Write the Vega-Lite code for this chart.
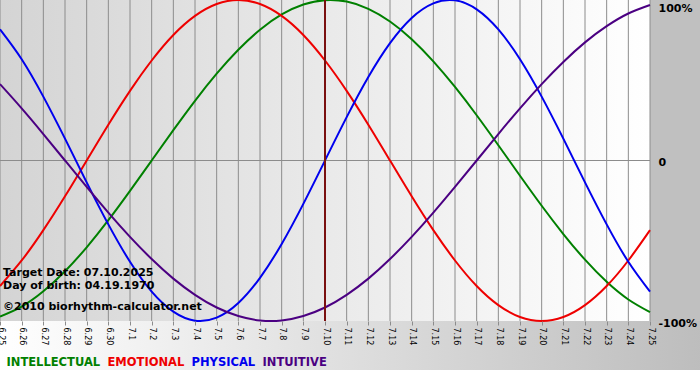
{
  "$schema": "https://vega.github.io/schema/vega-lite/v6.json",
  "width": 650,
  "height": 321,
  "autosize": {"type": "none"},
  "padding": {"left": 0, "top": 0, "right": 50, "bottom": 59},
  "background": "white",
  "config": {"view": {"stroke": null}, "font": "DejaVu Sans", "axis": {"labelOverlap": false}, "axisX": {"labelOverlap": false}},
  "datasets": {
    "bio": [
      {"day": -15, "series": "INTELLECTUAL", "value": -0.972},
      {"day": -14, "series": "INTELLECTUAL", "value": -0.910},
      {"day": -13, "series": "INTELLECTUAL", "value": -0.815},
      {"day": -12, "series": "INTELLECTUAL", "value": -0.690},
      {"day": -11, "series": "INTELLECTUAL", "value": -0.541},
      {"day": -10, "series": "INTELLECTUAL", "value": -0.372},
      {"day": -9, "series": "INTELLECTUAL", "value": -0.189},
      {"day": -8, "series": "INTELLECTUAL", "value": 0},
      {"day": -7, "series": "INTELLECTUAL", "value": 0.189},
      {"day": -6, "series": "INTELLECTUAL", "value": 0.372},
      {"day": -5, "series": "INTELLECTUAL", "value": 0.541},
      {"day": -4, "series": "INTELLECTUAL", "value": 0.690},
      {"day": -3, "series": "INTELLECTUAL", "value": 0.815},
      {"day": -2, "series": "INTELLECTUAL", "value": 0.910},
      {"day": -1, "series": "INTELLECTUAL", "value": 0.972},
      {"day": 0, "series": "INTELLECTUAL", "value": 0.999},
      {"day": 1, "series": "INTELLECTUAL", "value": 0.990},
      {"day": 2, "series": "INTELLECTUAL", "value": 0.945},
      {"day": 3, "series": "INTELLECTUAL", "value": 0.866},
      {"day": 4, "series": "INTELLECTUAL", "value": 0.756},
      {"day": 5, "series": "INTELLECTUAL", "value": 0.618},
      {"day": 6, "series": "INTELLECTUAL", "value": 0.458},
      {"day": 7, "series": "INTELLECTUAL", "value": 0.282},
      {"day": 8, "series": "INTELLECTUAL", "value": 0.095},
      {"day": 9, "series": "INTELLECTUAL", "value": -0.095},
      {"day": 10, "series": "INTELLECTUAL", "value": -0.282},
      {"day": 11, "series": "INTELLECTUAL", "value": -0.458},
      {"day": 12, "series": "INTELLECTUAL", "value": -0.618},
      {"day": 13, "series": "INTELLECTUAL", "value": -0.756},
      {"day": 14, "series": "INTELLECTUAL", "value": -0.866},
      {"day": 15, "series": "INTELLECTUAL", "value": -0.945},
      {"day": -15, "series": "EMOTIONAL", "value": -0.782},
      {"day": -14, "series": "EMOTIONAL", "value": -0.623},
      {"day": -13, "series": "EMOTIONAL", "value": -0.434},
      {"day": -12, "series": "EMOTIONAL", "value": -0.223},
      {"day": -11, "series": "EMOTIONAL", "value": 0},
      {"day": -10, "series": "EMOTIONAL", "value": 0.223},
      {"day": -9, "series": "EMOTIONAL", "value": 0.434},
      {"day": -8, "series": "EMOTIONAL", "value": 0.623},
      {"day": -7, "series": "EMOTIONAL", "value": 0.782},
      {"day": -6, "series": "EMOTIONAL", "value": 0.901},
      {"day": -5, "series": "EMOTIONAL", "value": 0.975},
      {"day": -4, "series": "EMOTIONAL", "value": 1},
      {"day": -3, "series": "EMOTIONAL", "value": 0.975},
      {"day": -2, "series": "EMOTIONAL", "value": 0.901},
      {"day": -1, "series": "EMOTIONAL", "value": 0.782},
      {"day": 0, "series": "EMOTIONAL", "value": 0.623},
      {"day": 1, "series": "EMOTIONAL", "value": 0.434},
      {"day": 2, "series": "EMOTIONAL", "value": 0.223},
      {"day": 3, "series": "EMOTIONAL", "value": 0},
      {"day": 4, "series": "EMOTIONAL", "value": -0.223},
      {"day": 5, "series": "EMOTIONAL", "value": -0.434},
      {"day": 6, "series": "EMOTIONAL", "value": -0.623},
      {"day": 7, "series": "EMOTIONAL", "value": -0.782},
      {"day": 8, "series": "EMOTIONAL", "value": -0.901},
      {"day": 9, "series": "EMOTIONAL", "value": -0.975},
      {"day": 10, "series": "EMOTIONAL", "value": -1},
      {"day": 11, "series": "EMOTIONAL", "value": -0.975},
      {"day": 12, "series": "EMOTIONAL", "value": -0.901},
      {"day": 13, "series": "EMOTIONAL", "value": -0.782},
      {"day": 14, "series": "EMOTIONAL", "value": -0.623},
      {"day": 15, "series": "EMOTIONAL", "value": -0.434},
      {"day": -15, "series": "PHYSICAL", "value": 0.817},
      {"day": -14, "series": "PHYSICAL", "value": 0.631},
      {"day": -13, "series": "PHYSICAL", "value": 0.398},
      {"day": -12, "series": "PHYSICAL", "value": 0.136},
      {"day": -11, "series": "PHYSICAL", "value": -0.136},
      {"day": -10, "series": "PHYSICAL", "value": -0.398},
      {"day": -9, "series": "PHYSICAL", "value": -0.631},
      {"day": -8, "series": "PHYSICAL", "value": -0.817},
      {"day": -7, "series": "PHYSICAL", "value": -0.942},
      {"day": -6, "series": "PHYSICAL", "value": -0.998},
      {"day": -5, "series": "PHYSICAL", "value": -0.979},
      {"day": -4, "series": "PHYSICAL", "value": -0.888},
      {"day": -3, "series": "PHYSICAL", "value": -0.731},
      {"day": -2, "series": "PHYSICAL", "value": -0.520},
      {"day": -1, "series": "PHYSICAL", "value": -0.270},
      {"day": 0, "series": "PHYSICAL", "value": 0},
      {"day": 1, "series": "PHYSICAL", "value": 0.270},
      {"day": 2, "series": "PHYSICAL", "value": 0.520},
      {"day": 3, "series": "PHYSICAL", "value": 0.731},
      {"day": 4, "series": "PHYSICAL", "value": 0.888},
      {"day": 5, "series": "PHYSICAL", "value": 0.979},
      {"day": 6, "series": "PHYSICAL", "value": 0.998},
      {"day": 7, "series": "PHYSICAL", "value": 0.942},
      {"day": 8, "series": "PHYSICAL", "value": 0.817},
      {"day": 9, "series": "PHYSICAL", "value": 0.631},
      {"day": 10, "series": "PHYSICAL", "value": 0.398},
      {"day": 11, "series": "PHYSICAL", "value": 0.136},
      {"day": 12, "series": "PHYSICAL", "value": -0.136},
      {"day": 13, "series": "PHYSICAL", "value": -0.398},
      {"day": 14, "series": "PHYSICAL", "value": -0.631},
      {"day": 15, "series": "PHYSICAL", "value": -0.817},
      {"day": -15, "series": "INTUITIVE", "value": 0.476},
      {"day": -14, "series": "INTUITIVE", "value": 0.325},
      {"day": -13, "series": "INTUITIVE", "value": 0.165},
      {"day": -12, "series": "INTUITIVE", "value": 0},
      {"day": -11, "series": "INTUITIVE", "value": -0.165},
      {"day": -10, "series": "INTUITIVE", "value": -0.325},
      {"day": -9, "series": "INTUITIVE", "value": -0.476},
      {"day": -8, "series": "INTUITIVE", "value": -0.614},
      {"day": -7, "series": "INTUITIVE", "value": -0.736},
      {"day": -6, "series": "INTUITIVE", "value": -0.837},
      {"day": -5, "series": "INTUITIVE", "value": -0.916},
      {"day": -4, "series": "INTUITIVE", "value": -0.969},
      {"day": -3, "series": "INTUITIVE", "value": -0.997},
      {"day": -2, "series": "INTUITIVE", "value": -0.997},
      {"day": -1, "series": "INTUITIVE", "value": -0.969},
      {"day": 0, "series": "INTUITIVE", "value": -0.916},
      {"day": 1, "series": "INTUITIVE", "value": -0.837},
      {"day": 2, "series": "INTUITIVE", "value": -0.736},
      {"day": 3, "series": "INTUITIVE", "value": -0.614},
      {"day": 4, "series": "INTUITIVE", "value": -0.476},
      {"day": 5, "series": "INTUITIVE", "value": -0.325},
      {"day": 6, "series": "INTUITIVE", "value": -0.165},
      {"day": 7, "series": "INTUITIVE", "value": 0},
      {"day": 8, "series": "INTUITIVE", "value": 0.165},
      {"day": 9, "series": "INTUITIVE", "value": 0.325},
      {"day": 10, "series": "INTUITIVE", "value": 0.476},
      {"day": 11, "series": "INTUITIVE", "value": 0.614},
      {"day": 12, "series": "INTUITIVE", "value": 0.736},
      {"day": 13, "series": "INTUITIVE", "value": 0.837},
      {"day": 14, "series": "INTUITIVE", "value": 0.916},
      {"day": 15, "series": "INTUITIVE", "value": 0.969}
    ]
  },
  "layer": [
    {
      "data": {"values": [{}]},
      "mark": {"type": "rect", "color": {"gradient": "linear", "x1": 0, "y1": 0, "x2": 1, "y2": 0, "stops": [{"offset": 0, "color": "#ffffff"}, {"offset": 1, "color": "#bdbdbd"}]}},
      "encoding": {
        "x": {"datum": -15, "type": "quantitative", "scale": {"domain": [-15, 15], "nice": false, "zero": false}},
        "x2": {"datum": 17.4},
        "y": {"datum": -1, "type": "quantitative", "scale": {"domain": [-1, 1], "nice": false, "zero": false}},
        "y2": {"datum": -1.305}
      }
    },
    {
      "data": {"values": [{}]},
      "mark": {"type": "rect", "color": "#c0c0c0"},
      "encoding": {
        "x": {"datum": 15, "type": "quantitative", "scale": {"domain": [-15, 15], "nice": false, "zero": false}},
        "x2": {"datum": 17.4},
        "y": {"datum": 1, "type": "quantitative", "scale": {"domain": [-1, 1], "nice": false, "zero": false}},
        "y2": {"datum": -1}
      }
    },
    {
      "data": {"values": [{}]},
      "mark": {"type": "rect", "color": {"gradient": "linear", "x1": 0, "y1": 0, "x2": 1, "y2": 0, "stops": [{"offset": 0, "color": "#d4d4d4"}, {"offset": 1, "color": "#ffffff"}]}},
      "encoding": {
        "x": {"datum": -15, "type": "quantitative", "scale": {"domain": [-15, 15], "nice": false, "zero": false}},
        "x2": {"datum": 15},
        "y": {"datum": 1, "type": "quantitative", "scale": {"domain": [-1, 1], "nice": false, "zero": false}},
        "y2": {"datum": -1}
      }
    },
    {
      "data": {"name": "bio"},
      "transform": [{"filter": "datum.series === 'INTELLECTUAL'"}],
      "mark": {"type": "rule", "color": "#8c8c8c", "strokeWidth": 1},
      "encoding": {
        "x": {
          "field": "day", "type": "quantitative",
          "scale": {"domain": [-15, 15], "nice": false, "zero": false},
          "axis": {
            "orient": "bottom", "title": null, "tickCount": 31,
            "values": [-15, -14, -13, -12, -11, -10, -9, -8, -7, -6, -5, -4, -3, -2, -1, 0, 1, 2, 3, 4, 5, 6, 7, 8, 9, 10, 11, 12, 13, 14, 15],
            "labelExpr": "datum.value < -9.5 ? '6.' + (40 + datum.value) : '7.' + (10 + datum.value)",
            "labelAngle": 90, "labelAlign": "left", "labelBaseline": "middle",
            "labelFont": "DejaVu Sans", "labelFontSize": 8, "labelColor": "black",
            "labelPadding": 2, "labelOverlap": false, "labelFlush": false, "labelBound": false,
            "grid": false, "domain": false, "ticks": true, "tickSize": 4, "tickColor": "#8c8c8c", "zindex": 1
          }
        }
      }
    },
    {
      "data": {"values": [{}]},
      "mark": {"type": "rule", "color": "#8c8c8c", "strokeWidth": 1},
      "encoding": {
        "y": {"datum": 0, "type": "quantitative", "scale": {"domain": [-1, 1], "nice": false, "zero": false}}
      }
    },
    {
      "data": {"name": "bio"},
      "mark": {"type": "line", "strokeWidth": 2, "interpolate": "natural"},
      "encoding": {
        "x": {
          "field": "day", "type": "quantitative",
          "scale": {"domain": [-15, 15], "nice": false, "zero": false},
          "axis": {
            "orient": "bottom", "title": null, "tickCount": 31,
            "values": [-15, -14, -13, -12, -11, -10, -9, -8, -7, -6, -5, -4, -3, -2, -1, 0, 1, 2, 3, 4, 5, 6, 7, 8, 9, 10, 11, 12, 13, 14, 15],
            "labelExpr": "datum.value < -9.5 ? '6.' + (40 + datum.value) : '7.' + (10 + datum.value)",
            "labelAngle": 90, "labelAlign": "left", "labelBaseline": "middle",
            "labelFont": "DejaVu Sans", "labelFontSize": 8, "labelColor": "black",
            "labelPadding": 2, "labelOverlap": false, "labelFlush": false, "labelBound": false,
            "grid": false, "domain": false, "ticks": true, "tickSize": 4, "tickColor": "#8c8c8c", "zindex": 1
          }
        },
        "y": {
          "field": "value", "type": "quantitative",
          "scale": {"domain": [-1, 1], "nice": false, "zero": false},
          "axis": {
            "orient": "right", "title": null, "values": [-1, 0, 1],
            "labelExpr": "datum.value > 0.5 ? '100%' : (datum.value < -0.5 ? '-100%' : '0')",
            "labelFont": "DejaVu Sans", "labelFontWeight": "bold", "labelFontSize": 11, "labelColor": "black",
            "labelPadding": 8, "labelOffset": 2,
            "labelBaseline": {"condition": {"test": "datum.value > 0.5", "value": "top"}, "value": "middle"},
            "grid": false, "domain": false, "ticks": false, "tickSize": 0,
            "labelFlush": false, "labelOverlap": false, "labelBound": false, "zindex": 1
          }
        },
        "color": {
          "field": "series", "type": "nominal",
          "scale": {"domain": ["INTELLECTUAL", "EMOTIONAL", "PHYSICAL", "INTUITIVE"], "range": ["#008000", "#ee0000", "#0000ee", "#4b0082"]},
          "legend": {
            "title": null, "orient": "bottom", "direction": "horizontal", "offset": 12,
            "symbolType": "circle", "symbolSize": 49, "symbolStrokeWidth": 0, "symbolOpacity": 0, "labelOffset": -5,
            "columnPadding": 0, "padding": 0,
            "labelFont": "DejaVu Sans", "labelFontWeight": "bold", "labelFontSize": 11.5,
            "encode": {"labels": {"update": {"fill": {"scale": "color", "field": "value"}}}}
          }
        }
      }
    },
    {
      "data": {"values": [{}]},
      "mark": {"type": "rule", "color": "#7a1010", "strokeWidth": 2},
      "encoding": {
        "x": {"datum": 0, "type": "quantitative", "scale": {"domain": [-15, 15], "nice": false, "zero": false}}
      }
    },
    {
      "data": {"values": [{}]},
      "mark": {"type": "text", "text": "Target Date: 07.10.2025", "align": "left", "baseline": "alphabetic", "dx": 3, "font": "DejaVu Sans", "fontWeight": "bold", "fontSize": 11, "color": "black"},
      "encoding": {
        "x": {"datum": -15, "type": "quantitative", "scale": {"domain": [-15, 15], "nice": false, "zero": false}},
        "y": {"datum": -0.72, "type": "quantitative", "scale": {"domain": [-1, 1], "nice": false, "zero": false}}
      }
    },
    {
      "data": {"values": [{}]},
      "mark": {"type": "text", "text": "Day of birth: 04.19.1970", "align": "left", "baseline": "alphabetic", "dx": 3, "font": "DejaVu Sans", "fontWeight": "bold", "fontSize": 11, "color": "black"},
      "encoding": {
        "x": {"datum": -15, "type": "quantitative", "scale": {"domain": [-15, 15], "nice": false, "zero": false}},
        "y": {"datum": -0.801, "type": "quantitative", "scale": {"domain": [-1, 1], "nice": false, "zero": false}}
      }
    },
    {
      "data": {"values": [{}]},
      "mark": {"type": "text", "text": "©2010 biorhythm-calculator.net", "align": "left", "baseline": "alphabetic", "dx": 3, "font": "DejaVu Sans", "fontWeight": "bold", "fontSize": 11, "color": "black"},
      "encoding": {
        "x": {"datum": -15, "type": "quantitative", "scale": {"domain": [-15, 15], "nice": false, "zero": false}},
        "y": {"datum": -0.931, "type": "quantitative", "scale": {"domain": [-1, 1], "nice": false, "zero": false}}
      }
    }
  ]
}
